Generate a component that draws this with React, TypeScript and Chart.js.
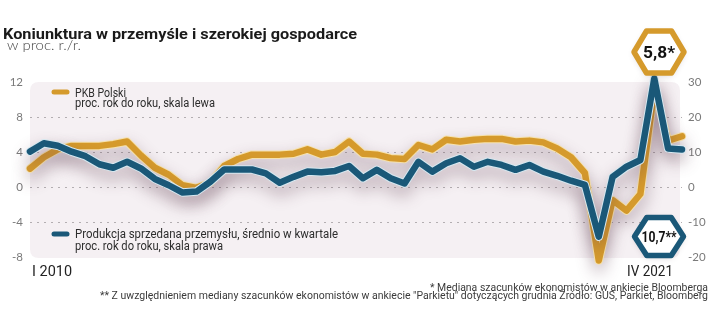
import React, { useEffect, useRef } from "react";
import { Chart, registerables } from "chart.js";

Chart.register(...registerables);

// ---- data ----
const years = [2010, 2011, 2012, 2013, 2014, 2015, 2016, 2017, 2018, 2019, 2020, 2021];
const quarterNames = ["I", "II", "III", "IV"];
const categories: string[] = [];
years.forEach((y) => quarterNames.forEach((q) => categories.push(q + " " + y)));

// PKB Polski, % r/r (left scale)
const gdp = [
  2.1, 3.4, 4.3, 4.7,
  4.7, 4.7, 4.9, 5.2,
  3.6, 2.2, 1.4, 0.2,
  -0.1, 0.5, 2.4, 3.2,
  3.7, 3.7, 3.7, 3.8,
  4.3, 3.7, 4.0, 5.2,
  3.8, 3.7, 3.3, 3.2,
  4.8, 4.3, 5.4, 5.2,
  5.4, 5.5, 5.5, 5.2,
  5.3, 5.1, 4.4, 3.4,
  1.6, -8.4, -1.5, -2.7,
  -0.8, 11.1, 5.3, 5.8,
];

// Produkcja sprzedana przemysłu, średnio w kwartale, % r/r (right scale)
const industry = [
  10.1, 12.5, 11.8, 10.1,
  8.8, 6.5, 5.5, 7.2,
  5.3, 2.3, 0.5, -1.6,
  -1.3, 1.5, 5.0, 5.0,
  5.0, 3.9, 1.2, 2.9,
  4.4, 4.2, 4.6, 6.0,
  2.5, 4.9, 2.5, 1.0,
  7.2, 4.4, 6.8, 8.2,
  5.8, 7.2, 6.3, 4.9,
  6.3, 4.4, 3.2, 1.8,
  0.6, -14.2, 2.9, 5.8,
  7.7, 31.0, 11.0, 10.7,
];

const leftTicks = [-8, -4, 0, 4, 8, 12];
const rightTicks = [-20, -10, 0, 10, 20, 30];

const titleText = "Koniunktura w przemyśle i szerokiej gospodarce";
const subtitleText = "w proc. r./r.";
const legendGdp = ["PKB Polski", "proc. rok do roku, skala lewa"];
const legendInd = ["Produkcja sprzedana przemysłu, średnio w kwartale", "proc. rok do roku, skala prawa"];
const firstLabel = "I 2010";
const lastLabel = "IV 2021";
const gdpBadge = "5,8*";
const indBadge = "10,7**";
const note1 = "* Mediana szacunków ekonomistów w ankiecie Bloomberga";
const note2 = "** Z uwzględnieniem mediany szacunków ekonomistów w ankiecie \"Parkietu\" dotyczących grudnia Źródło: GUS, Parkiet, Bloomberg";

const ORANGE = "#d59a2c";
const ORANGE_LIGHT = "#f6e2ad";
const BLUE = "#1a5878";
const BLUE_LIGHT = "#d6e8f0";

function fitText(ctx: CanvasRenderingContext2D, text: string, x: number, y: number, width: number, font: string, color: string, align: "left" | "right" | "center" = "left") {
  ctx.save();
  ctx.font = font;
  ctx.fillStyle = color;
  ctx.textBaseline = "alphabetic";
  ctx.textAlign = "left";
  const m = ctx.measureText(text).width;
  const sx = width / m;
  let x0 = x;
  if (align === "right") x0 = x - width;
  if (align === "center") x0 = x - width / 2;
  ctx.translate(x0, y);
  ctx.scale(sx, 1);
  ctx.fillText(text, 0, 0);
  ctx.restore();
}

function hexagon(ctx: CanvasRenderingContext2D, cx: number, cy: number, w: number, h: number, stroke: string) {
  ctx.save();
  ctx.beginPath();
  ctx.moveTo(cx - w, cy);
  ctx.lineTo(cx - w / 2, cy - h);
  ctx.lineTo(cx + w / 2, cy - h);
  ctx.lineTo(cx + w, cy);
  ctx.lineTo(cx + w / 2, cy + h);
  ctx.lineTo(cx - w / 2, cy + h);
  ctx.closePath();
  ctx.fillStyle = "#ffffff";
  ctx.shadowColor = "rgba(80,60,70,0.25)";
  ctx.shadowBlur = 6;
  ctx.shadowOffsetY = 2;
  ctx.fill();
  ctx.shadowColor = "transparent";
  ctx.lineJoin = "round";
  ctx.lineWidth = 5.5;
  ctx.strokeStyle = stroke;
  ctx.stroke();
  ctx.restore();
}

const decorPlugin = {
  id: "decor",
  beforeDraw(chart: any) {
    const ctx: CanvasRenderingContext2D = chart.ctx;
    const a = chart.chartArea;
    ctx.save();
    ctx.fillStyle = "#ffffff";
    ctx.fillRect(0, 0, chart.width, chart.height);
    ctx.fillStyle = "#f5f0f3";
    const r = 9;
    const x0 = a.left, y0 = a.top, x1 = a.right - 2, y1 = a.bottom + 1;
    ctx.beginPath();
    ctx.moveTo(x0 + r, y0);
    ctx.lineTo(x1 - r, y0);
    ctx.quadraticCurveTo(x1, y0, x1, y0 + r);
    ctx.lineTo(x1, y1 - r);
    ctx.quadraticCurveTo(x1, y1, x1 - r, y1);
    ctx.lineTo(x0 + r, y1);
    ctx.quadraticCurveTo(x0, y1, x0, y1 - r);
    ctx.lineTo(x0, y0 + r);
    ctx.quadraticCurveTo(x0, y0, x0 + r, y0);
    ctx.closePath();
    ctx.fill();
    ctx.restore();
  },
  beforeDatasetDraw(chart: any, args: any) {
    const ds = chart.data.datasets[args.index];
    const ctx: CanvasRenderingContext2D = chart.ctx;
    ctx.save();
    if (ds.shadow) {
      ctx.shadowColor = "rgba(90,55,75,0.42)";
      ctx.shadowBlur = 16;
      ctx.shadowOffsetY = 8;
    }
  },
  afterDatasetDraw(chart: any) {
    chart.ctx.restore();
  },
  afterDraw(chart: any) {
    const ctx: CanvasRenderingContext2D = chart.ctx;
    // title & subtitle
    fitText(ctx, titleText, 3, 38.5, 354, "bold 15.5px Roboto", "#1a1a1a");
    fitText(ctx, subtitleText, 7, 49.5, 74, "300 13px Lato", "#444444");

    // legend
    ctx.save();
    ctx.lineCap = "round";
    ctx.lineWidth = 5;
    ctx.strokeStyle = ORANGE;
    ctx.beginPath();
    ctx.moveTo(54, 92);
    ctx.lineTo(67, 92);
    ctx.stroke();
    ctx.strokeStyle = BLUE;
    ctx.beginPath();
    ctx.moveTo(54, 234);
    ctx.lineTo(67, 234);
    ctx.stroke();
    ctx.restore();
    const lf = "12.5px Roboto";
    fitText(ctx, legendGdp[0], 75, 96.5, 51, lf, "#2d2d2d");
    fitText(ctx, legendGdp[1], 75, 107, 140, lf, "#2d2d2d");
    fitText(ctx, legendInd[0], 75, 238, 263, lf, "#2d2d2d");
    fitText(ctx, legendInd[1], 75, 249.5, 148, lf, "#2d2d2d");

    // x labels
    fitText(ctx, firstLabel, 32, 276, 40, "15px Roboto", "#222222");
    fitText(ctx, lastLabel, 627, 276, 46, "15px Roboto", "#222222");

    // badges
    hexagon(ctx, 659, 52, 25, 21, ORANGE);
    fitText(ctx, gdpBadge, 659, 58, 32, "bold 17px Roboto", "#111111", "center");
    hexagon(ctx, 659, 236.5, 24.5, 19, BLUE);
    fitText(ctx, indBadge, 659, 242, 35, "bold 15px Roboto", "#111111", "center");

    // notes
    fitText(ctx, note1, 708, 290.5, 278, "10px Roboto", "#3a3a3a", "right");
    fitText(ctx, note2, 708, 298.5, 608, "10px Roboto", "#3a3a3a", "right");
  },
};

export default function App() {
  const ref = useRef<HTMLCanvasElement | null>(null);

  useEffect(() => {
    if (!ref.current) return;
    const common = {
      pointRadius: 0,
      pointHoverRadius: 0,
      tension: 0,
      borderJoinStyle: "round" as const,
      borderCapStyle: "round" as const,
      fill: false,
      clip: false as any,
    };
    const chart = new Chart(ref.current, {
      type: "line",
      data: {
        labels: categories,
        datasets: [
          { ...common, label: "ind", data: industry, yAxisID: "y2", borderColor: BLUE, borderWidth: 6.5, order: 0 } as any,
          { ...common, label: "ind-outline", data: industry, yAxisID: "y2", borderColor: BLUE_LIGHT, borderWidth: 8.5, order: 1, shadow: true } as any,
          { ...common, label: "gdp", data: gdp, yAxisID: "y", borderColor: ORANGE, borderWidth: 6.5, order: 2 } as any,
          { ...common, label: "gdp-outline", data: gdp, yAxisID: "y", borderColor: ORANGE_LIGHT, borderWidth: 8.5, order: 3, shadow: true } as any,
        ],
      },
      options: {
        responsive: false,
        animation: false,
        devicePixelRatio: 1,
        layout: { padding: { top: 82, bottom: 66, left: 0, right: 0 } },
        plugins: {
          legend: { display: false },
          title: { display: false },
          tooltip: { enabled: false },
        },
        events: [],
        scales: {
          x: { type: "category", display: false, offset: false },
          y: {
            position: "left",
            min: leftTicks[0],
            max: leftTicks[leftTicks.length - 1],
            afterBuildTicks: (s: any) => { s.ticks = leftTicks.map((v) => ({ value: v })); },
            afterFit: (s: any) => { s.width = 30; },
            ticks: { padding: 7, color: "#7a7a7a", font: { family: "Lato", size: 11.5 } },
            grid: {
              drawTicks: false,
              lineWidth: 1,
              color: (c: any) => (c.tick && (c.tick.value === 12 || c.tick.value === -8) ? "rgba(0,0,0,0)" : "#b3aeb1"),
            },
            border: { display: false, dash: [2, 5] },
          },
          y2: {
            position: "right",
            min: rightTicks[0],
            max: rightTicks[rightTicks.length - 1],
            afterBuildTicks: (s: any) => { s.ticks = rightTicks.map((v) => ({ value: v })); },
            afterFit: (s: any) => { s.width = 38; },
            ticks: { padding: 6, color: "#7a7a7a", font: { family: "Lato", size: 11.5 } },
            grid: { display: false, drawTicks: false },
            border: { display: false },
          },
        },
      } as any,
      plugins: [decorPlugin],
    });
    return () => chart.destroy();
  }, []);

  return (
    <div style={{ position: "fixed", left: 0, top: 0, width: 720, height: 323, background: "#fff" }}>
      <canvas ref={ref} width={720} height={323} style={{ display: "block", width: 720, height: 323 }} />
    </div>
  );
}
